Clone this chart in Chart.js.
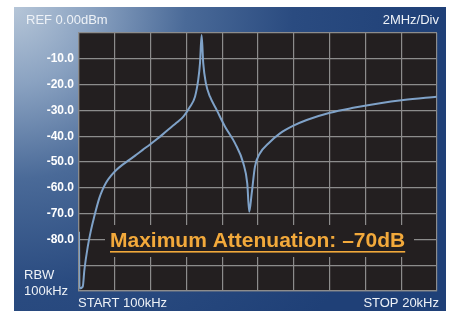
<!DOCTYPE html>
<html>
<head>
<meta charset="utf-8">
<script src="https://cdn.jsdelivr.net/npm/chart.js@4.4.1/dist/chart.umd.min.js"></script>
<style>
  html, body { margin: 0; padding: 0; background: #ffffff; }
  #wrap { width: 452px; height: 311px; }
</style>
</head>
<body>
<div id="wrap"><canvas id="c" width="452" height="311"></canvas></div>
<script>
// ---- Data ----
const freqMHz = [0.00, 0.03, 0.21, 0.30, 0.49, 0.67, 0.85, 1.13, 1.30, 1.51, 1.78, 2.07, 2.42, 2.81, 3.18, 3.56, 3.95, 4.34, 4.71, 5.08, 5.46, 5.83, 6.20, 6.48, 6.66, 6.76, 6.85, 6.94, 7.09, 7.32, 7.69, 8.16, 8.72, 9.18, 9.40, 9.51, 9.65, 9.83, 10.11, 10.58, 11.23, 11.95, 12.72, 14.02, 15.32, 16.82, 18.12, 19.98];
const levelDbm = [-77.0, -99.0, -98.3, -91.9, -82.8, -76.4, -71.2, -64.1, -61.0, -58.0, -55.4, -53.2, -51.1, -49.2, -47.3, -45.3, -43.3, -41.2, -39.1, -36.9, -34.7, -32.4, -28.6, -24.7, -18.2, -11.7, -0.8, -11.7, -19.5, -24.7, -29.8, -36.3, -42.8, -50.5, -58.3, -69.3, -62.1, -51.8, -46.6, -42.8, -38.9, -36.0, -33.7, -30.9, -29.0, -27.2, -26.0, -24.7];
const yLabelValues = [-10, -20, -30, -40, -50, -60, -70, -80];
const refLabel = "REF 0.00dBm";
const divLabel = "2MHz/Div";
const rbwLabel = ["RBW", "100kHz"];
const startLabel = "START 100kHz";
const stopLabel = "STOP 20kHz";
const calloutLabel = "Maximum Attenuation: \u201370dB";

const points = freqMHz.map((f, i) => ({ x: f, y: levelDbm[i] }));

const FONT = "'Liberation Sans', Arial, Helvetica, sans-serif";

const framePlugin = {
  id: 'frame',
  beforeDraw(chart) {
    const ctx = chart.ctx;
    const ca = chart.chartArea;
    ctx.save();
    ctx.fillStyle = '#ffffff';
    ctx.fillRect(0, 0, chart.width, chart.height);
    const g = ctx.createRadialGradient(14, 7, 0, 14, 7, 430);
    g.addColorStop(0, '#b6c6d8');
    g.addColorStop(0.18, '#8aa2c1');
    g.addColorStop(0.4, '#4a6a98');
    g.addColorStop(0.65, '#2a4b80');
    g.addColorStop(1, '#1f4077');
    ctx.fillStyle = g;
    ctx.fillRect(14, 7, 432, 304);
    // plot background
    ctx.fillStyle = '#231f20';
    ctx.fillRect(ca.left, ca.top, ca.right - ca.left, ca.bottom - ca.top);
    ctx.restore();
  },
  beforeDatasetsDraw(chart) {
    const ctx = chart.ctx;
    ctx.save();
    // callout box covering the grid
    ctx.fillStyle = '#231f20';
    ctx.fillRect(105, 225, 309, 32);
    ctx.font = "bold 21px " + FONT;
    ctx.fillStyle = '#f2a93b';
    ctx.textAlign = 'left';
    ctx.textBaseline = 'alphabetic';
    ctx.fillText(calloutLabel, 110, 247);
    const w = ctx.measureText(calloutLabel).width;
    ctx.fillRect(110, 251, w, 1.6);
    ctx.restore();
  },
  afterDraw(chart) {
    const ctx = chart.ctx;
    ctx.save();
    ctx.fillStyle = '#eef2f7';
    ctx.font = "13px " + FONT;
    ctx.textBaseline = 'middle';
    ctx.textAlign = 'left';
    ctx.fillText(refLabel, 26, 20);
    ctx.fillText(rbwLabel[0], 24, 275);
    ctx.fillText(rbwLabel[1], 24, 291);
    ctx.fillText(startLabel, 78, 303);
    ctx.textAlign = 'right';
    ctx.fillText(divLabel, 439, 20);
    ctx.fillText(stopLabel, 439, 303);
    ctx.restore();
  }
};

new Chart(document.getElementById('c'), {
  type: 'line',
  data: {
    datasets: [{
      data: points,
      borderColor: '#7fa2c8',
      borderWidth: 2,
      pointRadius: 0,
      cubicInterpolationMode: 'monotone',
      fill: false
    }]
  },
  options: {
    responsive: false,
    animation: false,
    devicePixelRatio: 1,
    layout: { padding: { left: 0, top: 33, right: 15, bottom: 20 } },
    plugins: { legend: { display: false }, tooltip: { enabled: false } },
    scales: {
      x: {
        type: 'linear', min: 0, max: 20,
        ticks: { stepSize: 2, display: false },
        grid: { color: '#8c8c8c', lineWidth: 1.2, drawTicks: false },
        border: { color: '#8c8c8c', width: 1.2 },
        afterFit(s) { s.height = 0; }
      },
      y: {
        min: -100, max: 0,
        ticks: {
          stepSize: 10,
          padding: 5,
          color: '#ffffff',
          font: { family: FONT, size: 12, weight: 'bold' },
          callback: (v) => yLabelValues.includes(v) ? v.toFixed(1) : ''
        },
        grid: { color: '#8c8c8c', lineWidth: 1.2, drawTicks: false },
        border: { color: '#8c8c8c', width: 1.2 },
        afterFit(s) { s.width = 79; }
      }
    }
  },
  plugins: [framePlugin]
});
</script>
</body>
</html>
